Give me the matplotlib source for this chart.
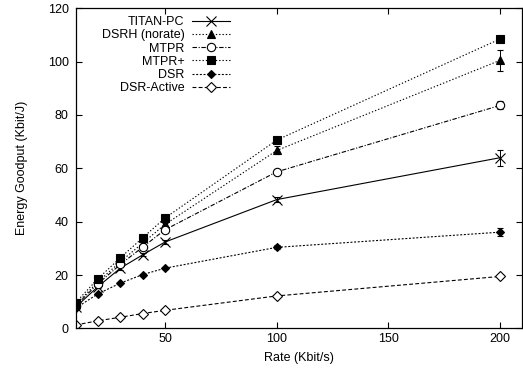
import matplotlib
matplotlib.use("Agg")
import matplotlib.pyplot as plt

plt.rcParams['font.family'] = ['Liberation Sans', 'DejaVu Sans']

rates = [10, 20, 30, 40, 50, 100, 200]
titan_pc = [8.0, 15.7, 22.6, 27.6, 32.4, 48.3, 64.0]
dsrh_norate = [9.0, 17.5, 25.0, 32.0, 39.0, 66.7, 100.5]
mtpr = [8.5, 16.8, 24.0, 30.5, 37.0, 58.7, 83.6]
mtpr_plus = [9.7, 18.7, 26.5, 34.0, 41.4, 70.6, 108.5]
dsr = [7.6, 13.0, 17.0, 20.2, 22.6, 30.4, 36.1]
dsr_active = [1.3, 2.9, 4.2, 5.6, 6.8, 12.2, 19.5]

err_titan = [0.3, 0.4, 0.5, 0.5, 0.6, 1.0, 3.0]
err_dsrh = [0.3, 0.4, 0.5, 0.5, 0.6, 1.5, 4.0]
err_mtpr = [0.3, 0.4, 0.5, 0.5, 0.6, 1.0, 1.5]
err_mtpr_plus = [0.3, 0.4, 0.5, 0.5, 0.6, 1.0, 1.0]
err_dsr = [0.2, 0.3, 0.3, 0.4, 0.4, 0.8, 1.5]
err_dsr_active = [0.1, 0.2, 0.2, 0.2, 0.3, 0.4, 0.6]

series = [
    ("TITAN-PC", titan_pc, err_titan, dict(ls='-', marker='x', ms=7, mfc='black')),
    ("DSRH (norate)", dsrh_norate, err_dsrh, dict(ls=(0, (1.2, 1.8)), marker='^', ms=5.5, mfc='black')),
    ("MTPR", mtpr, err_mtpr, dict(ls=(0, (4, 1.5, 1, 1.5)), marker='o', ms=6, mfc='white')),
    ("MTPR+", mtpr_plus, err_mtpr_plus, dict(ls=(0, (1.2, 1.8)), marker='s', ms=5.5, mfc='black')),
    ("DSR", dsr, err_dsr, dict(ls=(0, (1.8, 1.5)), marker='D', ms=4.5, mfc='black')),
    ("DSR-Active", dsr_active, err_dsr_active, dict(ls=(0, (3.5, 2)), marker='D', ms=5, mfc='white')),
]

fig = plt.figure(figsize=(5.23, 3.72), dpi=100)
ax = fig.add_axes([0.1447, 0.117, 0.8543, 0.8608])

for label, vals, errs, st in series:
    ax.errorbar(rates, vals, yerr=errs, color='black', lw=0.8, capsize=2,
                elinewidth=0.7, capthick=0.7, mec='black', mew=0.8,
                label=label, **st)

ax.set_xlim(10, 210)
ax.set_ylim(0, 120)
ax.set_xticks([50, 100, 150, 200])
ax.set_yticks([0, 20, 40, 60, 80, 100, 120])
ax.tick_params(direction='in', length=4, width=0.8, labelsize=9,
               top=True, right=True, pad=5)
ax.tick_params(axis='x', pad=3)
for sp in ax.spines.values():
    sp.set_linewidth(0.9)

ax.set_xlabel("Rate (Kbit/s)", fontsize=9, labelpad=5)
ax.set_ylabel("Energy Goodput (Kbit/J)", fontsize=9, labelpad=14)

handles, labels = ax.get_legend_handles_labels()
handles = [h[0] for h in handles]
ax.legend(handles, labels, loc='upper left', bbox_to_anchor=(0.042, 0.999),
          frameon=False, markerfirst=False, fontsize=9, handlelength=3.0,
          handletextpad=0.6, labelspacing=0.1, borderaxespad=0.2)

fig.savefig("out.png", dpi=100)
